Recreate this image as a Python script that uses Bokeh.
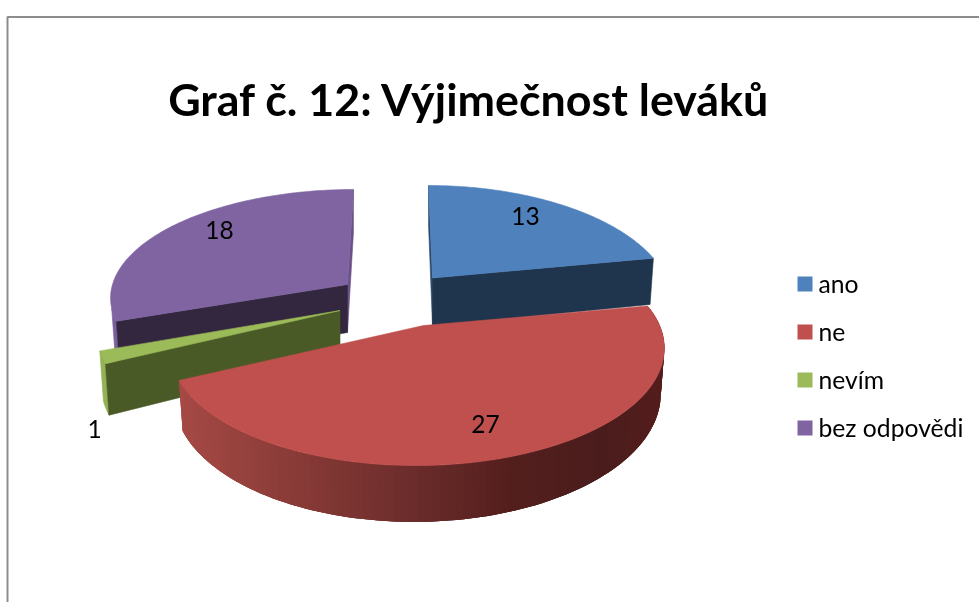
import numpy as np
from bokeh.core.properties import value
from bokeh.embed import file_html
from bokeh.plotting import figure
from bokeh.resources import INLINE

# ---- chart data ----
TITLE = "Graf č. 12: Výjimečnost leváků"
categories = ["ano", "ne", "nevím", "bez odpovědi"]
values = [13, 27, 1, 18]

# ---- styles / layout ----
top_colors = ["#4f81bd", "#c0504d", "#9bbb59", "#8064a2"]
face_colors = ["#1f344d", "#4a1d1c", "#4a5a26", "#33263f"]
FONT = "Lato"
label_x = [525, 485, 94, 219]
label_y = [215, 423, 428, 229]
legend_y = [283, 331, 379, 427]
square_y = [283.5, 331.5, 379.5, 427.5]

# camera of each exploded slice: screen apex, radius scale, perspective terms, height
camera = [
    dict(cx=432.0, cy=277.5, A=234, B=111.0, q=0.20, g=0.000, b=-4.8, H=48.0),
    dict(cx=423.0, cy=325.0, A=242, B=112.0, q=0.20, g=0.025, b=0.0, H=45.0),
    dict(cx=339.5, cy=310.0, A=238, B=111.0, q=0.20, g=0.000, b=0.0, H=47.0),
    dict(cx=347.0, cy=284.0, A=235, B=104.5, q=0.10, g=0.000, b=6.6, H=48.0),
]
BOTTOM_SCALE = 0.985

# side shading of the big slice, left to right
shade_x = [183, 303, 403, 503, 603, 660]
shade_r = [165, 135, 110, 85, 74, 84]
shade_g = [73, 58, 46, 32, 29, 30]
shade_b = [69, 54, 45, 30, 28, 28]


def project(cam, radius, theta, bottom=False):
    X = radius * np.sin(theta)
    Y = radius * np.cos(theta)
    d = 1 + cam["q"] * Y + cam["g"] * X
    dx = (cam["A"] * X + cam["b"] * Y) / d
    dy = -cam["B"] * Y / d
    if bottom:
        return cam["cx"] + dx * BOTTOM_SCALE, cam["cy"] + dy + cam["H"] / d
    return cam["cx"] + dx, cam["cy"] + dy


total = sum(values)
edges = np.concatenate([[0], np.cumsum(values)]) / total * 2 * np.pi

p = figure(
    width=979, height=602, x_range=(0, 979), y_range=(602, 0),
    output_backend="svg", toolbar_location=None, min_border=0,
    outline_line_color=None, background_fill_color="white",
    x_axis_type=None, y_axis_type=None,
)
p.grid.visible = False
p.styles = {"position": "fixed", "left": "0px", "top": "0px"}

# chart frame, cut by the picture edge
p.line([7, 7, 979], [602, 16.5, 16.5], line_color="#8c8c8c", line_width=2)


def poly(xs, ys, color, stroke=True):
    p.patch(list(xs), list(ys), fill_color=color,
            line_color=color if stroke else None, line_width=0.6)


def radial_face(i, theta, color):
    cam = camera[i]
    x0, y0 = project(cam, 0, theta)
    x1, y1 = project(cam, 1, theta)
    x2, y2 = project(cam, 1, theta, True)
    x3, y3 = project(cam, 0, theta, True)
    poly([x0, x1, x2, x3], [y0, y1, y2, y3], color)


def top(i):
    cam = camera[i]
    t = np.linspace(edges[i], edges[i + 1], 120)
    x, y = project(cam, 1, t)
    ax, ay = project(cam, 0, 0.0)
    poly(np.r_[ax, x], np.r_[ay, y], top_colors[i])


def outer(i, t0, t1, color):
    cam = camera[i]
    t = np.linspace(t0, t1, 40)
    xa, ya = project(cam, 1, t)
    xb, yb = project(cam, 1, t, True)
    poly(np.r_[xa, xb[::-1]], np.r_[ya, yb[::-1]], color)


# blue
radial_face(0, edges[0], "#2c4a6e")
radial_face(0, edges[1], face_colors[0])
top(0)

# purple
radial_face(3, edges[4], "#6a5187")
outer(3, edges[3], edges[3] + 0.12, "#7a5f9c")
radial_face(3, edges[3], face_colors[3])
top(3)

# green
outer(2, edges[2], edges[3], "#93b254")
radial_face(2, edges[2], face_colors[2])
top(2)

# red: gradient side (overlapping strips hide the seams), then top
cam = camera[1]
ts = np.linspace(edges[1], edges[2], 111)
xa, ya = project(cam, 1, ts)
xb, yb = project(cam, 1, ts, True)
for j in range(len(ts) - 1):
    k = min(j + 3, len(ts) - 1)
    xm = (xa[j] + xa[j + 1]) / 2
    col = "#%02x%02x%02x" % (
        int(np.interp(xm, shade_x, shade_r)),
        int(np.interp(xm, shade_x, shade_g)),
        int(np.interp(xm, shade_x, shade_b)),
    )
    idx = np.arange(j, k + 1)
    poly(np.r_[xa[idx], xb[idx][::-1]], np.r_[ya[idx], yb[idx][::-1]], col, stroke=False)
top(1)

# data labels
p.text(label_x, label_y, text=[str(v) for v in values], text_font=value(FONT),
       text_font_size=value("24.5px"), text_color="#000000",
       text_align="center", text_baseline="middle")

# title
p.text([469], [98], text=[TITLE], text_font=value(FONT), text_font_style="bold",
       text_font_size=value("44.8px"), text_color="#000000",
       text_align="center", text_baseline="middle")

# legend
p.scatter([804.5] * 4, square_y, marker="square", size=15,
          fill_color=top_colors, line_color=None)
p.text([818] * 4, legend_y, text=categories, text_font=value(FONT),
       text_font_size=value("24.7px"), text_color="#000000",
       text_align="left", text_baseline="middle")

open("out.html", "w").write(file_html(p, INLINE))
